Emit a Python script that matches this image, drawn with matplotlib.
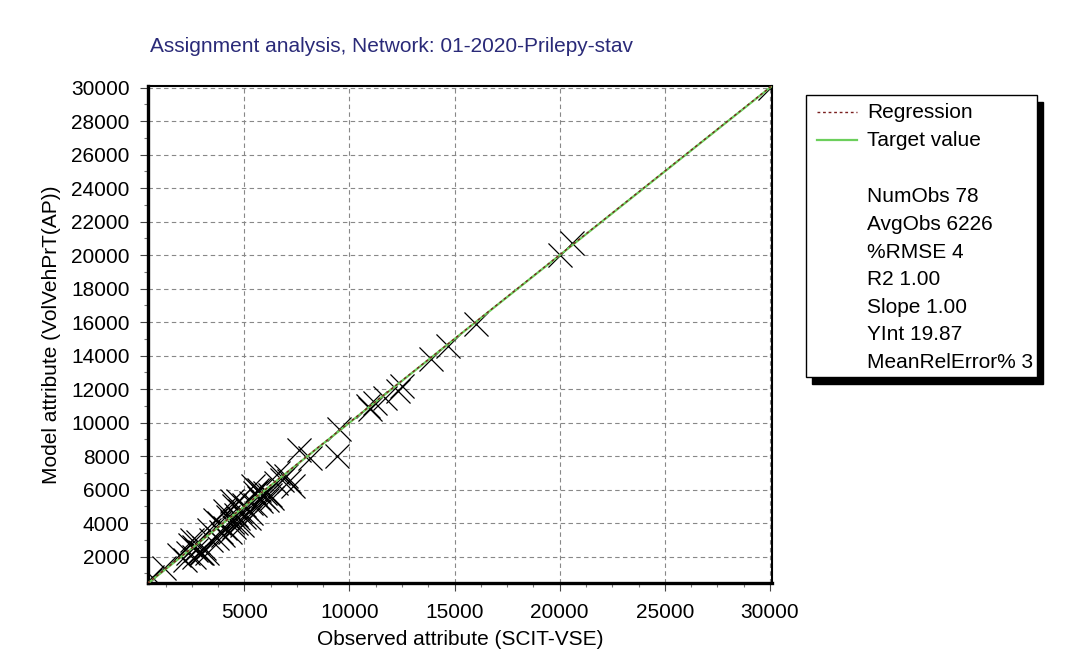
import matplotlib.pyplot as plt
from matplotlib.patches import Rectangle
from matplotlib.lines import Line2D
from matplotlib.ticker import MultipleLocator

plt.rcParams['font.family'] = ['Liberation Sans', 'DejaVu Sans']

# observed vs model volumes
observed = [500, 600, 1200, 1900, 2200, 2400, 2500, 2600, 2800, 2900, 3000, 3100,
            3200, 2700, 3300, 2300,
            3700, 3800, 4000, 4100, 4200, 4300, 4400, 4500, 4500, 4600, 4700, 4700,
            4800, 4900, 5000, 5100, 5200, 5300, 5400, 5500, 5600, 5700, 5800, 5900,
            6000, 6100, 6200, 6300, 4400, 4100, 3600, 5000, 5300,
            6600, 6800, 7000, 7300, 7600, 8100, 9400, 9500, 6500, 7100,
            11000, 11200, 11700, 12500, 12300, 13900, 14700, 16000, 20000, 20600, 30000,
            2600, 3400, 4600, 5500, 3900, 2950, 5700, 10900]
modelled = [600, 800, 1300, 2100, 1800, 2700, 3000, 2600, 2900, 2300, 2200, 2500,
            2200, 2400, 3600, 2200,
            3100, 4000, 3300, 3700, 4400, 3500, 4100, 5000, 3800, 4500, 5300, 4300,
            4700, 3900, 4400, 4900, 4300, 4600, 6200, 5800, 6000, 5500, 5300, 5600,
            5800, 5400, 5700, 5500, 5300, 4700, 4200, 5100, 5200,
            7000, 6600, 6800, 6200, 8400, 7900, 8000, 9600, 6400, 6500,
            10800, 11200, 11500, 12200, 11900, 13800, 14600, 15900, 20000, 20700, 30000,
            2000, 3000, 4000, 5100, 3500, 2250, 6000, 11000]

slope = 1.00
y_int = 19.87
stats = ["NumObs 78", "AvgObs 6226", "%RMSE 4", "R2 1.00", "Slope 1.00",
         "YInt 19.87", "MeanRelError% 3"]

x_min, x_max = 400, 30100
y_min, y_max = 430, 30100

fig = plt.figure(figsize=(10.7, 6.72), dpi=100)
ax = fig.add_axes([0.138, 0.1324, 0.5835, 0.7396])

ax.scatter(observed, modelled, marker='x', s=300, c='black', linewidths=0.9, zorder=3)
ax.plot([x_min, x_max], [x_min, x_max], color='#6ccf5c', lw=1.6, zorder=4)
ax.plot([x_min, x_max], [slope * x_min + y_int, slope * x_max + y_int],
        color='#7a1f1f', lw=1.0, ls=(0, (2, 2)), zorder=5)

ax.set_xlim(x_min, x_max)
ax.set_ylim(y_min, y_max)
ax.xaxis.set_major_locator(MultipleLocator(5000))
ax.xaxis.set_minor_locator(MultipleLocator(1250))
ax.yaxis.set_major_locator(MultipleLocator(2000))
ax.yaxis.set_minor_locator(MultipleLocator(1000))
ax.tick_params(which='major', direction='out', length=6, width=0.8, labelsize=15,
               color='#444444')
ax.tick_params(axis='x', which='major', pad=8.5)
ax.tick_params(axis='y', which='major', pad=7)
ax.tick_params(which='minor', direction='out', length=3, width=0.8, color='#777777')
ax.grid(True, which='major', color='#888888', ls=(0, (4, 3)), lw=0.8)

for s in ['left', 'bottom']:
    ax.spines[s].set_linewidth(2.4)
for s in ['top', 'right']:
    ax.spines[s].set_linewidth(1.5)

ax.set_xlabel("Observed attribute (SCIT-VSE)", fontsize=15, labelpad=6)
ax.set_ylabel("Model attribute (VolVehPrT(AP))", fontsize=15, labelpad=7)
fig.text(150 / 1070, 1 - 47 / 672, "Assignment analysis, Network: 01-2020-Prilepy-stav",
         fontsize=15, color='#2a2a78', va='center', ha='left')

# legend box with shadow
bx, by = 806 / 1070, 1 - 377 / 672
bw, bh = 231 / 1070, 282 / 672
fig.patches.append(Rectangle((bx + 6 / 1070, by - 7 / 672), bw, bh, transform=fig.transFigure,
                             facecolor='black', edgecolor='black', zorder=1))
fig.patches.append(Rectangle((bx, by), bw, bh, transform=fig.transFigure,
                             facecolor='white', edgecolor='black', lw=1.0, zorder=2))

def fy(py):
    return 1 - py / 672

fig.lines.append(Line2D([817 / 1070, 857 / 1070], [fy(112), fy(112)], transform=fig.transFigure,
                        color='#7a1f1f', lw=1.0, ls=(0, (2, 2)), zorder=3))
fig.lines.append(Line2D([817 / 1070, 857 / 1070], [fy(140), fy(140)], transform=fig.transFigure,
                        color='#6ccf5c', lw=1.6, zorder=3))
fig.text(867 / 1070, fy(112), "Regression", fontsize=15, va='center', zorder=3)
fig.text(867 / 1070, fy(140), "Target value", fontsize=15, va='center', zorder=3)
for i, s in enumerate(stats):
    fig.text(867 / 1070, fy(197 + i * 27.6), s, fontsize=15, va='center', zorder=3)

fig.savefig('out.png', dpi=100)
